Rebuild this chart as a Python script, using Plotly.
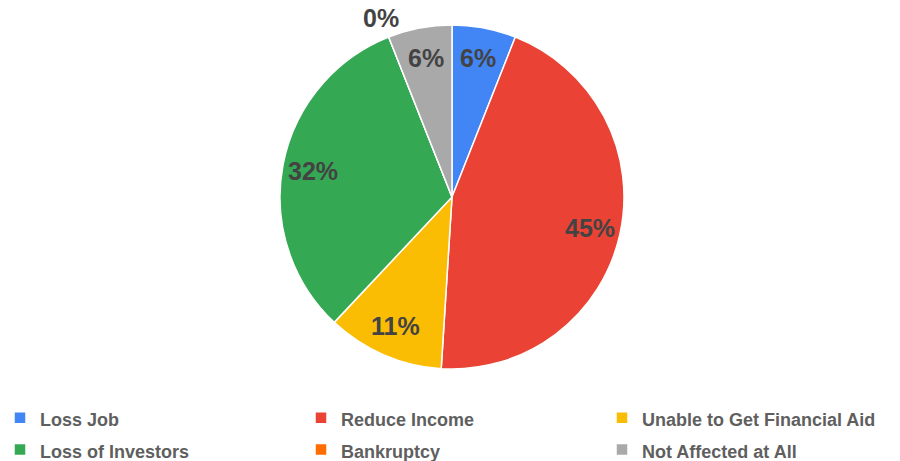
import math
import plotly.graph_objects as go

# Survey: how businesses were affected
categories = ["Loss Job", "Reduce Income", "Unable to Get Financial Aid",
              "Loss of Investors", "Bankruptcy", "Not Affected at All"]
shares = [6, 45, 11, 32, 0, 6]
colors = ["#4285F4", "#EA4335", "#FBBC04", "#34A853", "#FF6D01", "#A9A9A9"]

W, H = 900, 461
CX, CY, R = 452, 197, 172
FONT = "Arial, Liberation Sans, sans-serif"

# legend labels: 18px text inside a taller legend line for roomier rows
legend_labels = [f"<span style='font-size:18px'>{c}</span>" for c in categories]

fig = go.Figure(go.Pie(
    labels=legend_labels,
    values=shares,
    sort=False,
    direction="clockwise",
    rotation=0,
    marker=dict(colors=colors, line=dict(color="white", width=1.5)),
    textinfo="none",
    hoverinfo="label+percent",
    domain=dict(x=[(CX - R) / W, (CX + R) / W],
                y=[(H - CY - R) / H, (H - CY + R) / H]),
))

# percentage labels placed along each slice's mid-angle
total = sum(shares)
cum = 0
for v in shares:
    theta = 2 * math.pi * (cum + v / 2) / total
    cum += v
    r = 0.82 * R if v > 0 else 1.12 * R
    px = CX + r * math.sin(theta)
    py = CY - r * math.cos(theta)
    fig.add_annotation(
        x=px / W, y=1 - py / H, xref="paper", yref="paper",
        xanchor="center", yanchor="middle",
        text=f"{round(100 * v / total)}%", showarrow=False,
        font=dict(family=FONT, size=25, color="#434343", weight="bold"),
    )

fig.update_layout(
    width=W, height=H,
    margin=dict(l=0, r=0, t=0, b=0, autoexpand=False),
    paper_bgcolor="white",
    plot_bgcolor="white",
    showlegend=True,
    legend=dict(
        orientation="h",
        x=0.0, xanchor="left",
        y=1 - 397 / H, yanchor="top",
        entrywidth=256, entrywidthmode="pixels",
        font=dict(family=FONT, size=22, color="#5f5f5f", weight="bold"),
        traceorder="normal",
    ),
)

fig.write_html("out.html")
